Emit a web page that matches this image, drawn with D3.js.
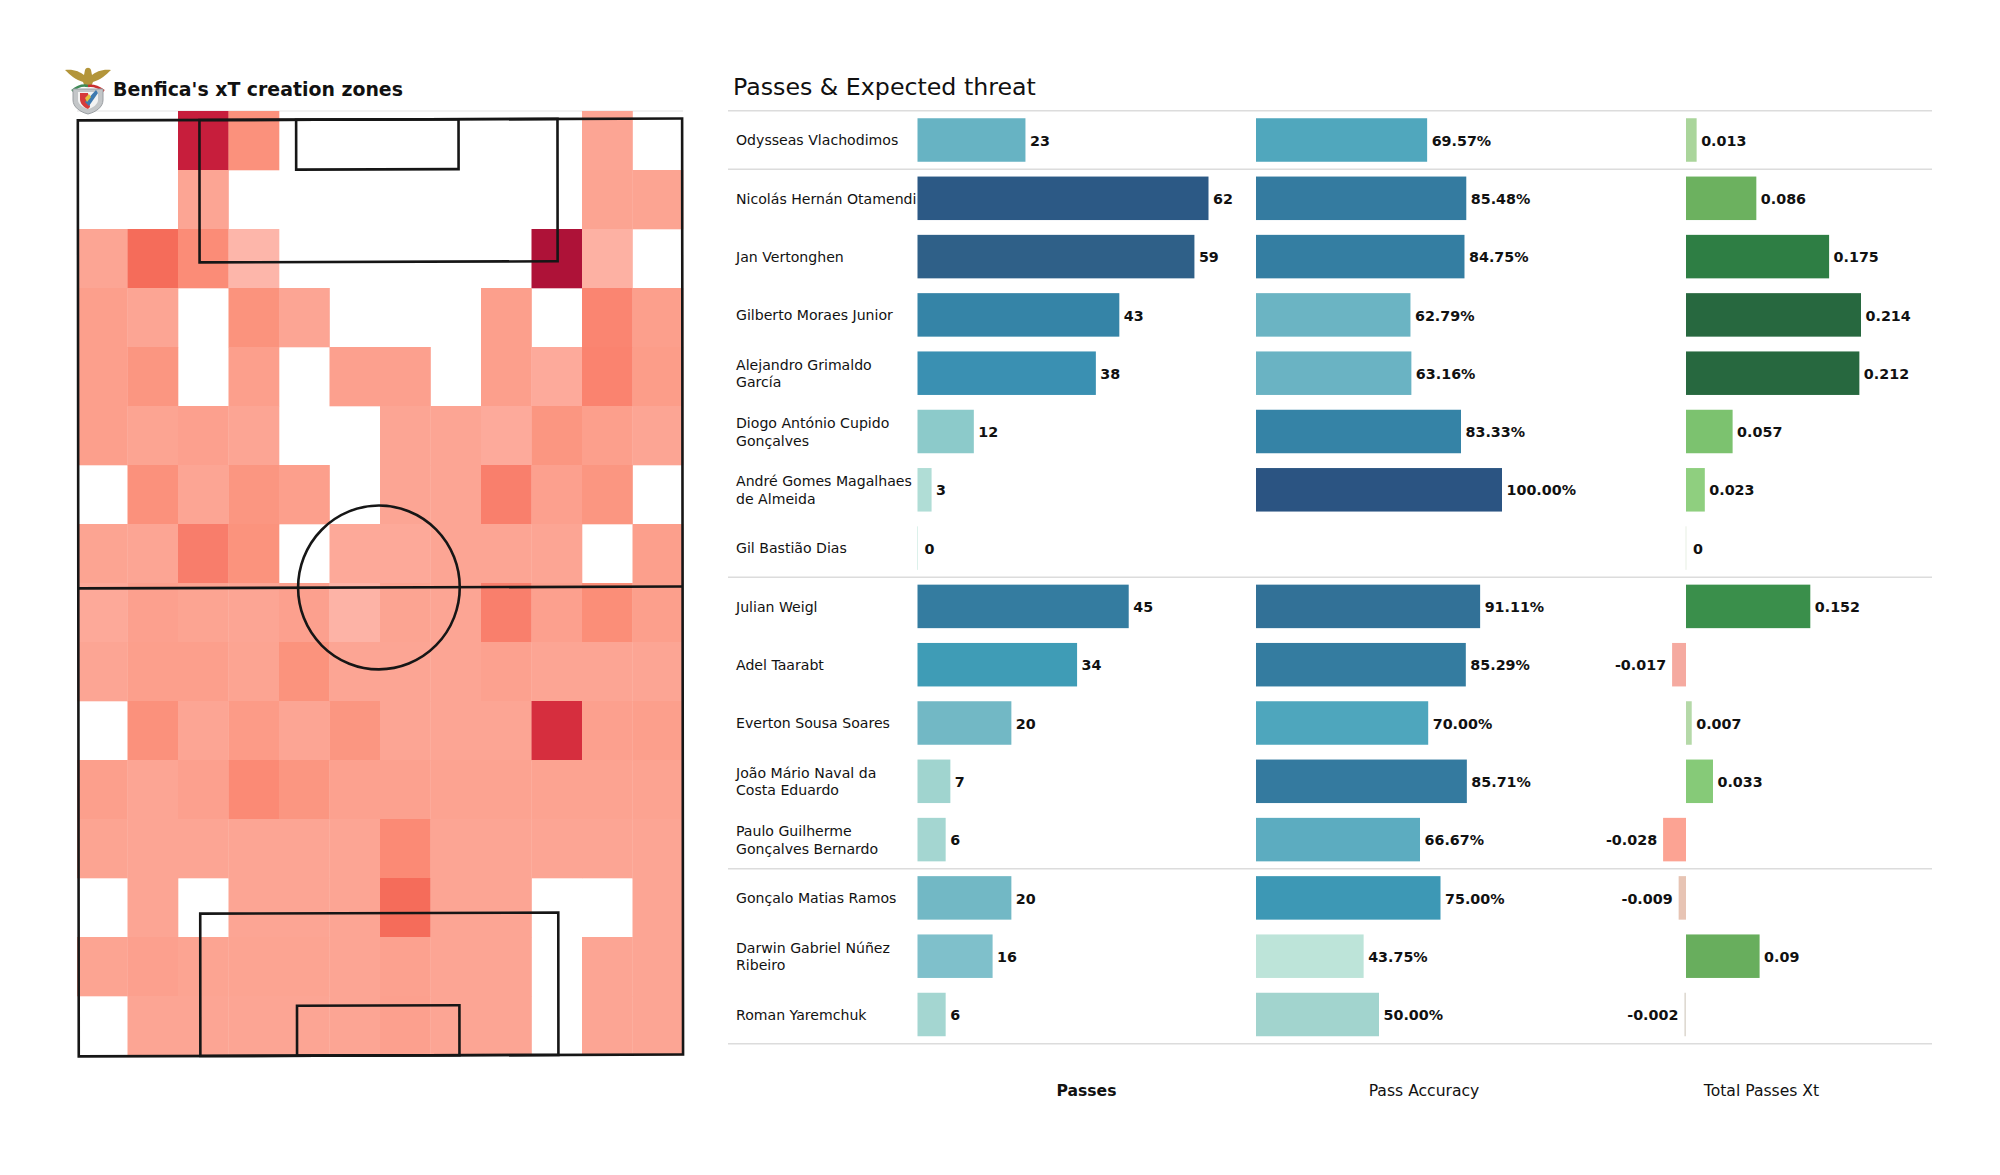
<!DOCTYPE html>
<html>
<head>
<meta charset="utf-8">
<script src="https://cdn.jsdelivr.net/npm/d3@7"></script>
<style>
html,body{margin:0;padding:0;background:#fff}
text{font-family:"DejaVu Sans",sans-serif}
</style>
</head>
<body>
<svg id="c" width="2000" height="1175"></svg>
<script>
const players = [
  ["Odysseas Vlachodimos"],
  ["Nicolás Hernán Otamendi"],
  ["Jan Vertonghen"],
  ["Gilberto Moraes Junior"],
  ["Alejandro Grimaldo","García"],
  ["Diogo António Cupido","Gonçalves"],
  ["André Gomes Magalhaes","de Almeida"],
  ["Gil Bastião Dias"],
  ["Julian Weigl"],
  ["Adel Taarabt"],
  ["Everton Sousa Soares"],
  ["João Mário Naval da","Costa Eduardo"],
  ["Paulo Guilherme","Gonçalves Bernardo"],
  ["Gonçalo Matias Ramos"],
  ["Darwin Gabriel Núñez","Ribeiro"],
  ["Roman Yaremchuk"]
];
const passes = [23,62,59,43,38,12,3,0,45,34,20,7,6,20,16,6];
const accuracy = [69.57,85.48,84.75,62.79,63.16,83.33,100,null,91.11,85.29,70,85.71,66.67,75,43.75,50];
const xt = [0.013,0.086,0.175,0.214,0.212,0.057,0.023,0,0.152,-0.017,0.007,0.033,-0.028,-0.009,0.09,-0.002];
const separatorsAfter = [0,7,12];
const columnTitles = ["Passes","Pass Accuracy","Total Passes Xt"];

// xT heat grid: 16 rows (top to bottom), 12 columns; null = no value
const N = null;
const heat = [
 [N,N,.85,.23,N,N,N,N,N,N,.11,N],
 [N,N,.11,N,N,N,N,N,N,N,.12,.12],
 [.11,.40,.26,.01,N,N,N,N,N,1,.03,N],
 [.16,.11,N,.22,.11,N,N,N,.16,N,.30,.16],
 [.16,.20,N,.16,N,.15,.15,N,.16,.06,.31,.17],
 [.16,.12,.15,.11,N,N,.11,.11,.06,.20,.16,.11],
 [N,.23,.11,.20,.16,N,.11,.11,.33,.15,.20,N],
 [.12,.11,.34,.22,N,.07,.07,.11,.11,.11,N,.16],
 [.07,.15,.12,.11,.15,.02,.12,.11,.33,.15,.25,.16],
 [.11,.16,.16,.12,.22,.11,.11,.11,.14,.11,.11,.11],
 [N,.23,.11,.18,.11,.20,.11,.11,.11,.70,.15,.16],
 [.16,.11,.15,.27,.20,.14,.14,.13,.13,.13,.13,.13],
 [.12,.11,.11,.11,.11,.11,.27,.11,.11,.11,.11,.11],
 [N,.11,N,.11,.11,.11,.40,.11,.11,N,N,.11],
 [.12,.15,.12,.12,.12,.11,.14,.11,.11,N,.11,.11],
 [N,.11,.11,.11,.11,.11,.15,.11,.11,N,.11,.11]
];

// Pitch layout, in pitch units (80 wide, 120 long)
const pitchW = 80, pitchL = 120;
const boxX = [16.1,63.5], sixX = [28.9,50.4], centreX = 39.8;
const boxDepth = 18.25, sixDepth = 6.4, circleRX = 10.7, circleRY = 10.5;

const svg = d3.select("#c");

// ---------- left panel ----------
const heatColor = d3.scaleLinear()
  .domain([0,.05,.11,.16,.2,.25,.3,.35,.4,.7,.85,1])
  .range(["#fdb9ad","#fdab9c","#fca594","#fc9f8c","#fb9681","#fb8e78","#fa8571","#f87b69","#f56c5a","#d62e3e","#c71e3c","#ae1238"]);
const cx = d3.scaleBand().domain(d3.range(12)).range([77,683]);
const cy = d3.scaleBand().domain(d3.range(16)).range([111,1055]);

svg.append("line").attr("x1",77).attr("x2",683).attr("y1",111).attr("y2",111)
  .attr("stroke","#e4e4e4").attr("stroke-width",1.2);

heat.forEach((row,r)=>row.forEach((v,c)=>{
  if(v===null) return;
  svg.append("rect").attr("x",cx(c)).attr("y",cy(r))
    .attr("width",cx.bandwidth()+.3).attr("height",cy.bandwidth()+.3)
    .attr("fill",heatColor(v));
}));

const px = d3.scaleLinear().domain([0,pitchW]).range([78,682.3]);
const py = d3.scaleLinear().domain([0,pitchL]).range([119.5,1055.5]);
const pitch = svg.append("g").attr("fill","none").attr("stroke","#161616").attr("stroke-width",2.6)
  .attr("transform","matrix(1,-0.003,0.001,1,-0.3,1.1)");
const box = (x0,x1,y0,y1)=>pitch.append("rect")
  .attr("x",px(x0)).attr("y",py(y0)).attr("width",px(x1)-px(x0)).attr("height",py(y1)-py(y0));
box(0,pitchW,0,pitchL);
box(boxX[0],boxX[1],0,boxDepth);
box(sixX[0],sixX[1],0,sixDepth);
box(boxX[0],boxX[1],pitchL-boxDepth,pitchL);
box(sixX[0],sixX[1],pitchL-sixDepth,pitchL);
pitch.append("line").attr("x1",px(0)).attr("x2",px(pitchW)).attr("y1",py(pitchL/2)).attr("y2",py(pitchL/2));
pitch.append("ellipse").attr("cx",px(centreX)).attr("cy",py(pitchL/2))
  .attr("rx",px(circleRX)-px(0)).attr("ry",py(circleRY)-py(0));

// crest
const crest = svg.append("g").attr("transform","translate(88,92)");
crest.append("path").attr("fill","#b3953a")
  .attr("d","M-23,-22 C-14,-23 -8,-20 -4,-17 L-3,-22 C-2,-25 2,-25 3,-22 L4,-17 C8,-20 14,-23 23,-22 C18,-17 12,-12 5,-10 L3,-5 L-3,-5 L-5,-10 C-12,-12 -18,-17 -23,-22Z");
crest.append("path").attr("fill","none").attr("stroke","#3f8a58").attr("stroke-width",2.5)
  .attr("d","M-16,-1 C-9,-7 -4,-7 0,-6");
crest.append("path").attr("fill","none").attr("stroke","#c9302f").attr("stroke-width",2.5)
  .attr("d","M0,-6 C5,-7 9,-6 16,-1");
crest.append("path").attr("fill","#c3c6c8").attr("stroke","#9a9ea2").attr("stroke-width",1)
  .attr("d","M-15,-3 L15,-3 L15,8 C15,15 8,20 0,22 C-8,20 -15,15 -15,8Z");
crest.append("path").attr("fill","#f3f3f3").attr("d","M-10,0 L10,0 L10,8 C10,12 5,16 0,17 C-5,16 -10,12 -10,8Z");
crest.append("path").attr("fill","#d63a3a").attr("d","M-8,1 L0,1 L2,15 L0,17 C-5,15 -8,11 -8,7Z");
crest.append("path").attr("fill","#3f7ab0").attr("d","M-3,10 L8,-2 L10,1 L1,14Z");
crest.append("path").attr("fill","#e3c23e").attr("d","M-3,6 L1,2 L3,5 L-1,10Z");

svg.append("text").attr("x",113).attr("y",96).attr("font-size",18.9).attr("font-weight","bold")
  .attr("fill","#111").text("Benfica's xT creation zones");

// ---------- right panel ----------
svg.append("text").attr("x",733).attr("y",95).attr("font-size",23.7).attr("fill","#111").text("Passes & Expected threat");

const rowY = d3.scaleLinear().domain([0,15]).range([140,1014.5]);
const barH = 43.5;
const xPass = d3.scaleLinear().domain([0,62]).range([917.5,1208.5]);
const xAcc  = d3.scaleLinear().domain([0,100]).range([1256,1502]);
const xXt   = d3.scaleLinear().domain([0,0.214]).range([1686,1861]);

const passColor = d3.scaleLinear()
  .domain([0,3,7,12,16,20,23,34,38,43,45,59,62])
  .range(["#c4e8de","#b0ddd6","#a0d4cf","#8ccaca","#7fc0cb","#72b8c5","#67b3c3","#3f9cb6","#3a90b2","#3584a7","#347ca0","#2f6088","#2c5985"]);
const accColor = d3.scaleLinear()
  .domain([43.75,50,62.79,66.67,70,75,83.33,85.71,91.11,100])
  .range(["#bde4d9","#a2d4ce","#6bb4c3","#5cacc0","#4ea6bd","#3d98b5","#3583a6","#347a9f","#327197","#2b5482"]);
const xtColor = d3.scaleLinear()
  .domain([-0.028,-0.017,-0.009,-0.002,0,0.007,0.013,0.023,0.033,0.057,0.086,0.09,0.152,0.175,0.212,0.214])
  .range(["#fca393","#f5aaa0","#e7c4b4","#dfdad2","#d8e4d2","#b5d9a8","#aad59b","#8fcf7f","#86ca78","#7cc26f","#6cb15f","#68ae5d","#3a8f4b","#2e7e44","#27683f","#27683f"]);

const sepY = i => (rowY(i)+rowY(i+1))/2;
const hlines = [rowY(0)-(rowY(1)-rowY(0))/2, ...separatorsAfter.map(sepY), rowY(15)+(rowY(1)-rowY(0))/2];
svg.selectAll("line.sep").data(hlines).join("line").attr("class","sep")
  .attr("x1",728).attr("x2",1932).attr("y1",d=>d).attr("y2",d=>d)
  .attr("stroke","#dcdcdc").attr("stroke-width",1.5);

// names (below bars: the longest one runs under its bar)
players.forEach((lines,i)=>{
  const t = svg.append("text").attr("x",736).attr("font-size",14.1).attr("fill","#111");
  if(lines.length===1){
    t.attr("y",rowY(i)+5.3).text(lines[0]);
  } else {
    lines.forEach((l,k)=>t.append("tspan").attr("x",736).attr("y",rowY(i)+5.3+(k===0?-8.7:8.7)).text(l));
  }
});

function column(values, x, color, fmt){
  values.forEach((v,i)=>{
    if(v===null) return;
    const x0 = x(0), x1 = x(v), l = Math.min(x0,x1);
    let w = Math.abs(x1-x0);
    if(v===0){
      svg.append("rect").attr("x",x0-.5).attr("y",rowY(i)-barH/2).attr("width",1).attr("height",barH)
        .attr("fill",color(0)).attr("opacity",.6);
    } else {
      svg.append("rect").attr("x",l).attr("y",rowY(i)-barH/2).attr("width",Math.max(w,1)).attr("height",barH)
        .attr("fill",color(v));
    }
    svg.append("text").attr("x",v<0?l-6:x1+(v===0?7:4.5)).attr("y",rowY(i)+5.6)
      .attr("text-anchor",v<0?"end":"start").attr("font-size",14.3).attr("font-weight","bold")
      .attr("fill","#111").text(fmt(v));
  });
}
column(passes,xPass,passColor,v=>String(v));
column(accuracy,xAcc,accColor,v=>v.toFixed(2)+"%");
column(xt,xXt,xtColor,v=>String(v));

const titleX = [1086.5,1424,1761.5];
columnTitles.forEach((t,i)=>svg.append("text").attr("x",titleX[i]).attr("y",1095.5)
  .attr("text-anchor","middle").attr("font-size",15.6).attr("fill","#111")
  .attr("font-weight",i===0?"bold":"normal").text(t));
</script>
</body>
</html>
